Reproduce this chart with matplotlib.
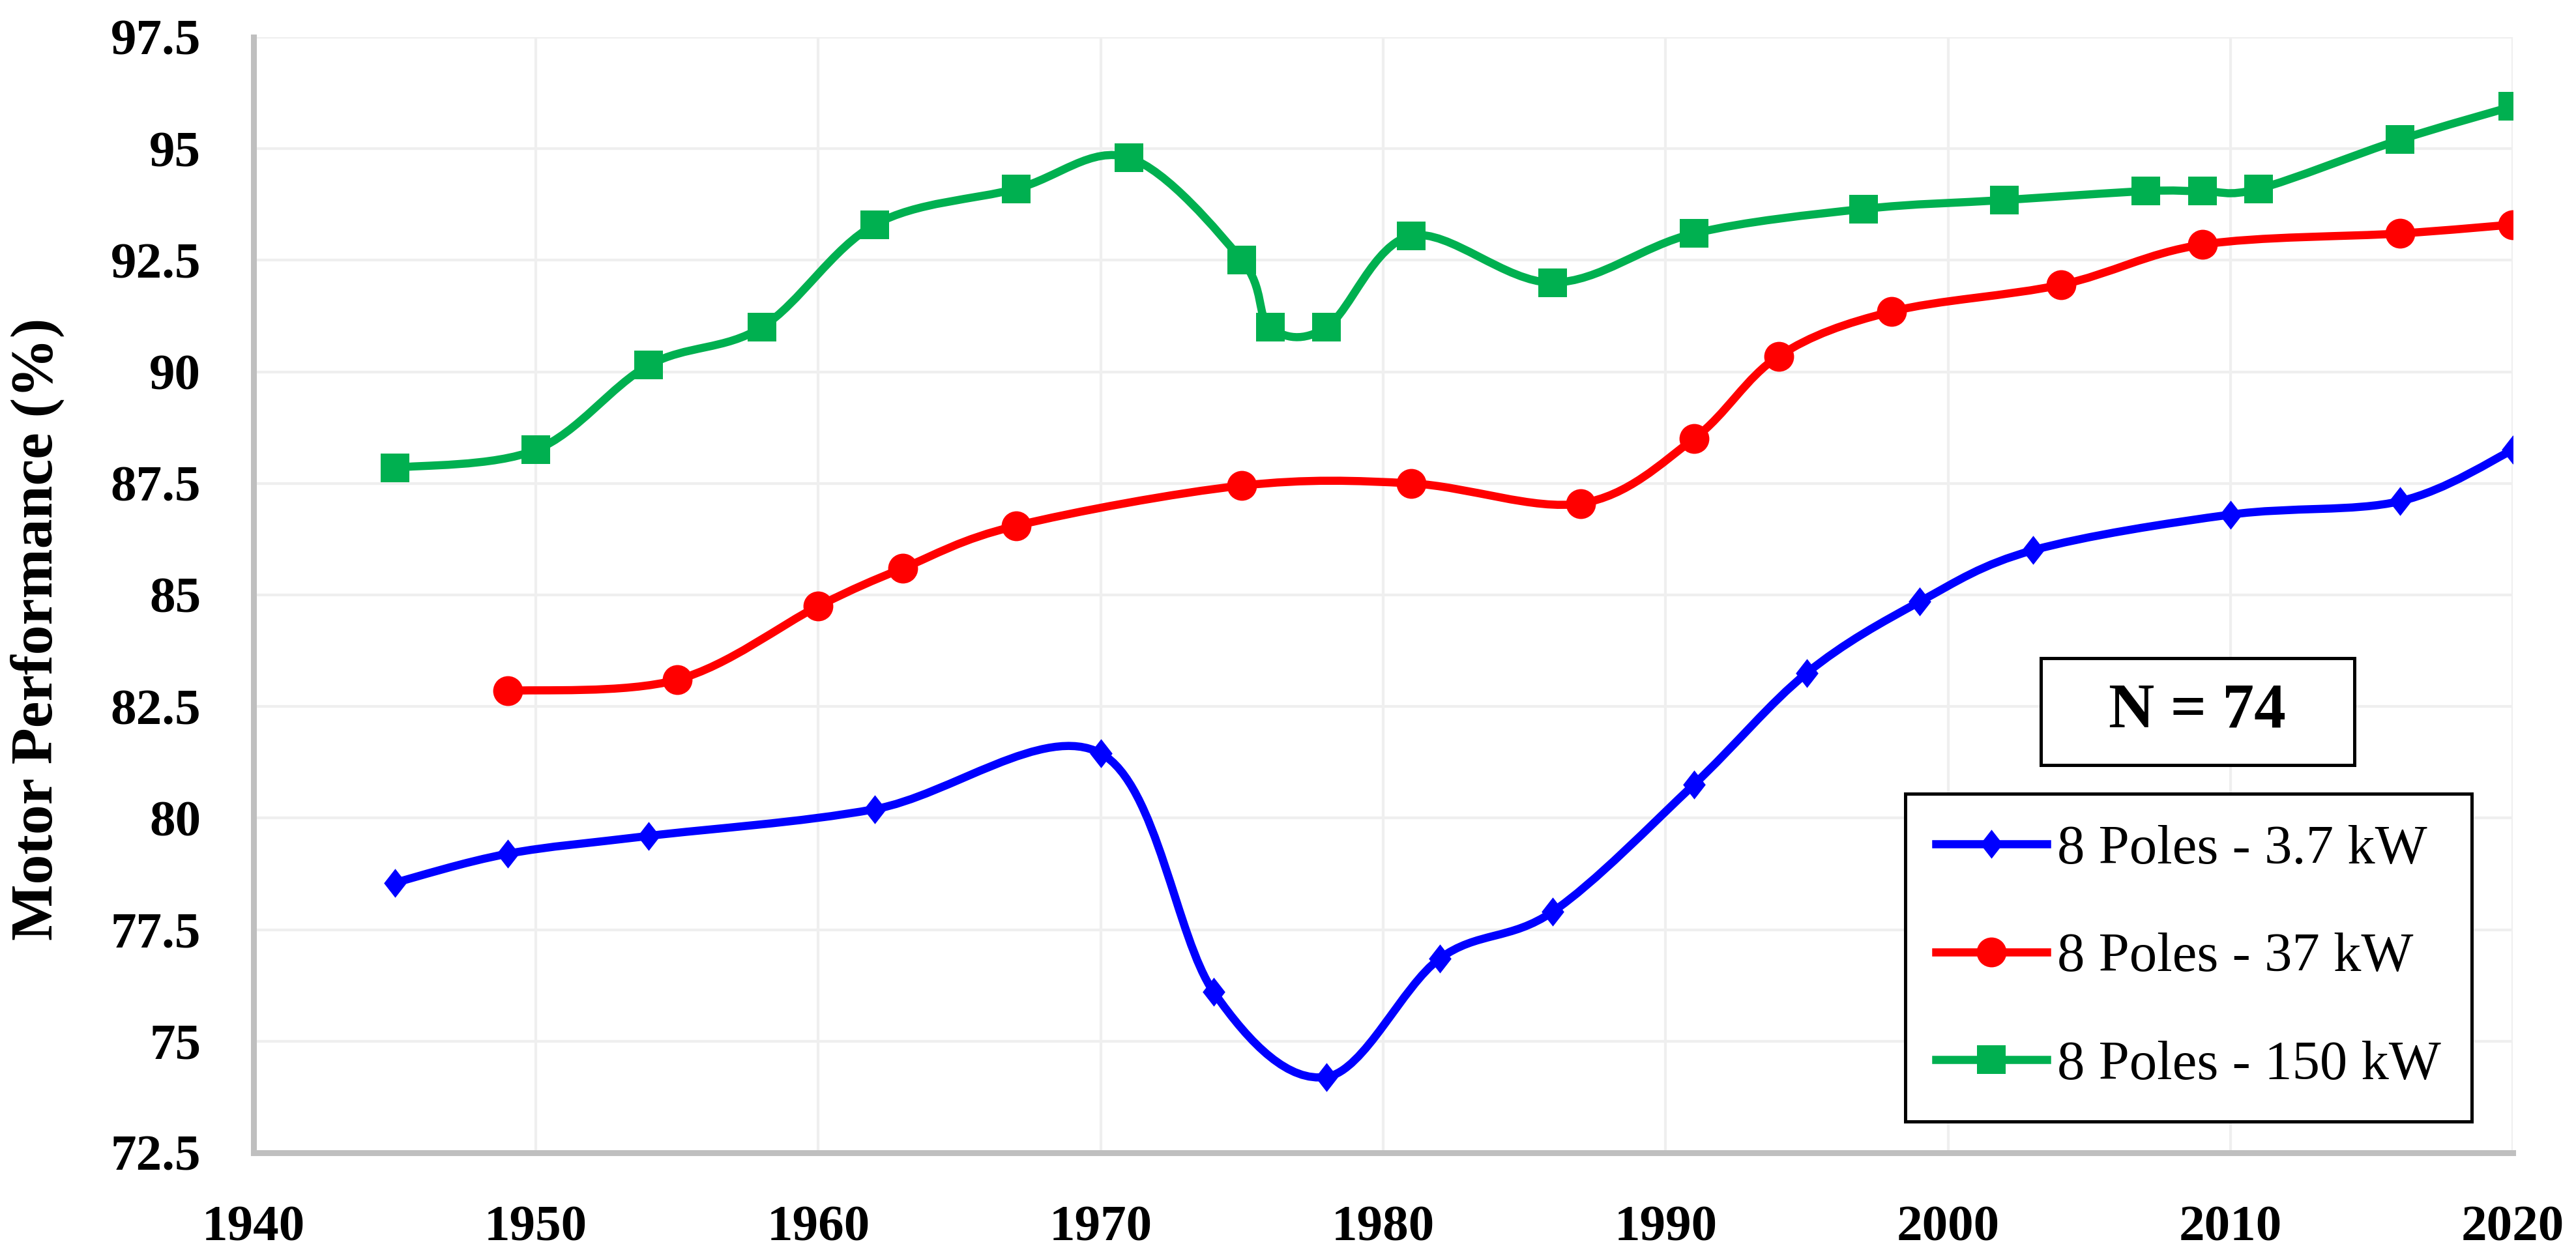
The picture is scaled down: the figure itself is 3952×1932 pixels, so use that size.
# Motor performance vs year, 8 pole motors
import numpy as np
import matplotlib
matplotlib.use('Agg')
import matplotlib.pyplot as plt
from matplotlib.path import Path
from matplotlib.patches import PathPatch, Rectangle
from matplotlib.lines import Line2D

# data
years_37 = [1945, 1949, 1954, 1962, 1970, 1974, 1978, 1982, 1986, 1991, 1995, 1999, 2003, 2010, 2016, 2020]
perf_37 = [78.55, 79.2, 79.6, 80.2, 81.45, 76.1, 74.2, 76.85, 77.9, 80.75, 83.25, 84.85, 86.0, 86.8, 87.1, 88.25]

years_370 = [1949, 1955, 1960, 1963, 1967, 1975, 1981, 1987, 1991, 1994, 1998, 2004, 2009, 2016, 2020]
perf_370 = [82.85, 83.1, 84.75, 85.6, 86.55, 87.45, 87.5, 87.05, 88.5, 90.35, 91.35, 91.95, 92.85, 93.1, 93.3]

years_150 = [1945, 1950, 1954, 1958, 1962, 1967, 1971, 1975, 1976, 1978, 1981, 1986, 1991, 1997, 2002, 2007, 2009, 2011, 2016, 2020]
perf_150 = [87.85, 88.25, 90.15, 91.0, 93.3, 94.1, 94.8, 92.5, 91.0, 91.0, 93.05, 92.0, 93.1, 93.65, 93.85, 94.05, 94.05, 94.1, 95.2, 95.95]

labels = ['8 Poles - 3.7 kW', '8 Poles - 37 kW', '8 Poles - 150 kW']
colors = ['#0000FF', '#FF0000', '#00B050']

serif = 'Liberation Serif'


def smooth_path(xs, ys):
    # catmull-rom style bezier, like excel's smoothed line
    p = np.column_stack([xs, ys]).astype(float)
    n = len(p)
    verts = [p[0]]
    codes = [Path.MOVETO]
    for i in range(n - 1):
        p0 = p[i - 1] if i > 0 else p[i]
        p3 = p[i + 2] if i + 2 < n else p[i + 1]
        c1 = p[i] + (p[i + 1] - p0) / 6.0
        c2 = p[i + 1] - (p3 - p[i]) / 6.0
        verts += [c1, c2, p[i + 1]]
        codes += [Path.CURVE4] * 3
    return Path(verts, codes)


fig = plt.figure(figsize=(39.52, 19.32), dpi=100)
ax = fig.add_axes([0.0984, 0.0844, 0.9755 - 0.0984, 0.9705 - 0.0844])

lw = 9.0
series = [
    (years_37, perf_37, 'd_custom', 32),
    (years_370, perf_370, 'o', 33),
    (years_150, perf_150, 's', 32),
]
diamond = [(0, 1), (0.78, 0), (0, -1), (-0.78, 0), (0, 1)]

handles = []
for k, (xs, ys, mk, ms) in enumerate(series):
    marker = diamond if mk == 'd_custom' else mk
    patch = PathPatch(smooth_path(xs, ys), facecolor='none', edgecolor=colors[k],
                      lw=lw, capstyle='round', joinstyle='round', zorder=3)
    ax.add_patch(patch)
    ax.plot(xs, ys, ls='none', marker=marker, ms=ms, mfc=colors[k], mec=colors[k],
            mew=0, zorder=4)
    handles.append(Line2D([], [], color=colors[k], lw=lw, marker=marker, ms=ms,
                          mfc=colors[k], mew=0))

ax.set_xlim(1940, 2020)
ax.set_ylim(72.5, 97.5)
ax.set_xticks(np.arange(1940, 2021, 10))
ax.set_yticks(np.arange(72.5, 97.6, 2.5))
ax.set_yticklabels(['%g' % v for v in np.arange(72.5, 97.6, 2.5)])

ax.grid(True, color='#EFEFEF', lw=3, zorder=0)
ax.set_axisbelow(True)
for s in ['top', 'right']:
    ax.spines[s].set_visible(False)
for s in ['left', 'bottom']:
    ax.spines[s].set_color('#BFBFBF')
    ax.spines[s].set_linewidth(6.5)
    ax.spines[s].set_zorder(5)

ax.tick_params(length=0, labelsize=57, pad=58)
for t in ax.get_xticklabels() + ax.get_yticklabels():
    t.set_fontfamily(serif)
    t.set_fontweight('bold')

fig.text(57 / 3952, 1 - 965 / 1932, 'Motor Performance (%)', rotation=90,
         ha='center', va='center', fontsize=66, fontweight='bold', family=serif)

# N = 74 box
fig.add_artist(Rectangle((3131 / 3952, 1 - 1174 / 1932), 481 / 3952, 164 / 1932,
                         transform=fig.transFigure, facecolor='white',
                         edgecolor='black', lw=3.6, zorder=6))
fig.text(3371 / 3952, 1 - 1092 / 1932, 'N = 74', ha='center', va='center',
         fontsize=70, fontweight='bold', family=serif, zorder=7)

leg = ax.legend(handles, labels, loc='upper left',
                bbox_to_anchor=(2923 / 3952, 1 - 1218 / 1932),
                bbox_transform=fig.transFigure,
                prop={'family': serif, 'size': 61},
                frameon=True, fancybox=False, framealpha=1, edgecolor='black',
                borderpad=0.56, handlelength=2.0, handletextpad=0.19,
                labelspacing=1.04, borderaxespad=0)
leg.get_frame().set_linewidth(3.6)
leg.set_zorder(6)

fig.savefig('out.png', dpi=100, facecolor='white')
